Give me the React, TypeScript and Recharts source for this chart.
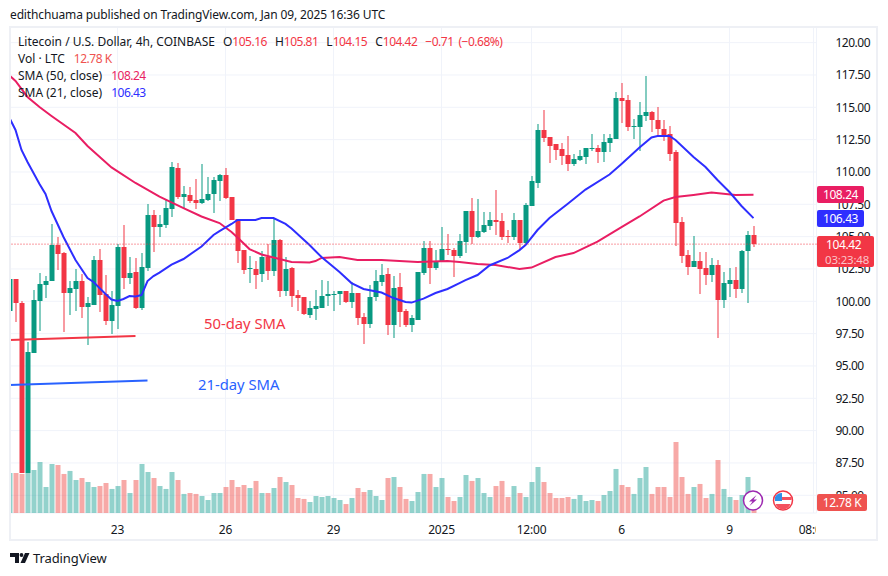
import { Bar, Cell, CartesianGrid, ComposedChart, Line, ReferenceLine, XAxis, YAxis } from 'recharts';

// 4h candles, Dec 20 2024 -> Jan 9 2025
const opens = [
  99.27, 101.72, 99.84, 86.75, 96.03, 100.05, 101.26, 101.59, 104.35, 103.73, 100.67, 100.98, 101.57, 99.58, 99.74, 103.19, 100.56, 98.5, 99.66, 104.2, 101.83, 102.26, 99.51, 102.6, 106.67,
  105.77, 105.93, 107.16, 110.31, 108.09, 108.22, 107.83, 107.63, 107.86, 108.32, 109.33, 109.77, 108.07, 106.36, 103.97, 102.52, 102.5, 102.11, 103.42, 102.37, 104.74, 100.82, 102.57, 100.49, 100.33,
  98.94, 99.4, 99.48, 100.41, 100.54, 100.59, 100.8, 99.94, 100.64, 98.78, 98.24, 100.33, 101.49, 102.11, 98.17, 101.1, 99.25, 98.17, 98.55, 102.19, 104.12, 102.57, 103.04, 104.05, 103.97,
  103.5, 104.59, 106.98, 104.97, 105.36, 105.82, 106.29, 106.21, 105.08, 104.97, 106.29, 104.51, 107.37, 109.15, 113.25, 112.71, 112.17, 111.78, 111.32, 110.62, 110.93, 111.16, 111.78, 111.86, 111.55,
  112.24, 112.55, 115.72, 115.57, 113.48, 113.48, 114.33, 114.64, 114.02, 113.33, 112.94, 111.55, 106.13, 103.58, 102.65, 103.12, 102.58, 102.03, 102.81, 100.1, 101.34, 101.65, 100.95, 103.89, 105.16,
];
const highs = [
  101.72, 101.72, 100.02, 96.85, 100.87, 102.19, 101.96, 105.98, 104.95, 103.81, 101.57, 102.5, 102.11, 100.33, 103.5, 104.04, 102.03, 100.8, 104.43, 105.9, 103.45, 103.35, 103.73, 107.52, 107.06,
  106.67, 107.91, 110.77, 110.69, 108.92, 108.84, 109.46, 110.62, 109.61, 109.61, 109.84, 110.31, 108.07, 106.36, 103.97, 103.5, 103.12, 103.89, 104.43, 106.44, 104.82, 103.42, 102.65, 100.87, 100.33,
  100.02, 100.87, 101.65, 101.57, 100.8, 100.8, 100.8, 101.49, 100.64, 99.09, 101.26, 102.42, 102.88, 102.57, 101.96, 102.19, 99.4, 98.94, 102.26, 104.66, 104.66, 103.97, 105.74, 105.23, 104.12,
  105.21, 106.98, 107.99, 107.91, 106.91, 106.91, 108.61, 106.83, 105.52, 106.83, 106.29, 107.6, 109.69, 113.71, 114.8, 112.71, 112.17, 112.24, 112.79, 111.39, 111.7, 111.86, 112.94, 112.09, 112.94,
  112.94, 116.19, 116.88, 115.96, 114.1, 115.42, 117.43, 114.72, 115.03, 114.02, 113.56, 111.7, 106.52, 103.97, 105.05, 103.81, 103.81, 103.35, 103.2, 102.27, 102.58, 102.65, 103.97, 105.44, 105.81,
];
const lows = [
  99.27, 98.42, 86.72, 86.75, 96.03, 97.7, 100.25, 101.59, 102.37, 97.62, 98.96, 99.25, 98.71, 96.64, 99.74, 99.2, 98.19, 97.5, 97.86, 100.98, 101.34, 99.43, 99.35, 102.37, 103.84,
  105.0, 105.67, 106.54, 107.91, 107.14, 107.6, 107.11, 107.55, 107.78, 106.85, 107.78, 107.91, 106.29, 102.96, 102.11, 101.41, 100.95, 101.49, 101.65, 101.96, 100.33, 100.41, 99.56, 99.25, 98.94,
  98.71, 98.55, 99.48, 99.63, 99.25, 99.71, 99.87, 99.48, 98.17, 96.7, 97.93, 100.02, 101.18, 97.39, 97.16, 98.01, 98.01, 97.62, 98.55, 102.03, 101.34, 102.42, 103.04, 103.58, 101.88,
  103.35, 103.74, 104.43, 104.9, 105.28, 105.52, 105.13, 104.74, 104.51, 104.74, 103.97, 104.43, 107.37, 108.76, 112.32, 110.7, 110.93, 110.54, 110.08, 110.47, 110.85, 110.62, 111.62, 110.7, 110.77,
  111.55, 112.55, 113.79, 113.17, 112.55, 111.62, 113.95, 113.1, 112.86, 112.4, 110.85, 104.28, 102.96, 102.03, 102.65, 100.57, 101.26, 101.49, 97.16, 99.48, 100.33, 100.26, 100.64, 99.87, 104.15,
];
const closes = [
  101.72, 99.89, 86.72, 96.08, 100.1, 101.34, 101.57, 104.35, 103.68, 100.67, 101.03, 101.57, 99.58, 99.87, 103.19, 100.51, 98.5, 99.71, 104.2, 101.83, 102.19, 99.51, 102.65, 106.67, 105.77,
  105.98, 107.21, 110.39, 108.09, 108.3, 107.78, 107.63, 107.91, 108.3, 109.38, 109.77, 107.99, 106.29, 103.91, 102.45, 102.57, 102.06, 103.42, 102.37, 104.74, 100.82, 102.5, 100.43, 100.28, 99.02,
  99.48, 99.63, 100.41, 100.56, 100.59, 100.8, 99.94, 100.64, 98.71, 98.24, 100.33, 101.57, 102.03, 98.17, 101.03, 99.17, 98.17, 98.71, 102.26, 104.12, 102.57, 103.12, 104.04, 104.0, 103.5,
  104.66, 106.98, 105.0, 105.44, 105.9, 106.29, 106.13, 104.97, 105.03, 106.29, 104.51, 107.45, 109.31, 113.25, 112.63, 112.01, 111.7, 111.24, 110.62, 111.01, 111.24, 111.86, 111.83, 111.55, 112.32,
  112.63, 115.72, 115.49, 113.48, 113.53, 114.41, 114.64, 114.02, 113.33, 112.86, 111.39, 106.06, 103.5, 102.65, 103.12, 102.5, 102.03, 102.81, 100.1, 101.42, 101.65, 100.95, 103.89, 105.13, 104.42,
];
// thousands of LTC
const volumes = [
  46.4, 46.4, 45.3, 46.4, 49.9, 59.2, 30.2, 56.9, 55.7, 45.3, 48.8, 38.3, 40.6, 36.0, 30.2, 31.3, 34.8, 27.9, 31.3, 38.3, 23.2, 38.3, 56.9, 47.6, 40.6,
  31.3, 27.9, 47.6, 38.3, 22.1, 23.2, 22.1, 19.7, 15.1, 23.2, 23.2, 30.2, 38.3, 30.2, 32.5, 29.0, 37.2, 23.2, 23.2, 29.0, 41.8, 36.0, 32.5, 17.4, 16.3,
  12.8, 19.7, 18.6, 19.7, 17.4, 15.1, 10.4, 17.4, 29.0, 24.4, 26.7, 19.7, 15.1, 40.6, 41.8, 30.2, 16.3, 13.9, 24.4, 45.3, 45.3, 30.2, 40.6, 18.6, 13.9,
  18.6, 44.1, 37.2, 40.6, 23.2, 18.6, 31.3, 37.2, 18.6, 31.3, 23.2, 18.6, 36.0, 53.4, 36.0, 23.2, 17.4, 17.4, 18.6, 16.3, 20.9, 13.9, 15.1, 13.9, 20.9,
  25.5, 51.1, 32.5, 30.2, 22.1, 40.6, 53.4, 22.1, 30.2, 30.2, 18.6, 82.4, 41.8, 22.1, 30.2, 33.7, 17.4, 22.1, 61.5, 27.9, 18.6, 15.1, 20.9, 41.8, 12.78,
];
// moving averages at these candles
const sma21At = [0, 1, 2, 3, 5, 6, 7, 9, 11, 13, 14, 16, 17, 18, 19, 20, 21, 22, 23, 24, 25, 27, 29, 32, 34, 35, 37, 38, 41, 42, 44, 46, 47, 50, 52, 55, 57, 59, 62, 64, 66, 67, 69, 71, 73, 75, 76, 78, 80, 83, 85, 86, 88, 90, 93, 96, 100, 102, 105, 107, 108, 110, 111, 114, 116, 118, 120, 122, 124];
const sma21Values = [114.17, 113.25, 111.7, 110.77, 109.07, 108.3, 106.98, 104.97, 103.19, 101.8, 101.49, 100.56, 100.14, 100.02, 100.18, 100.41, 100.37, 100.48, 101.57, 101.95, 102.22, 102.84, 103.27, 104.24, 105.13, 105.43, 105.98, 106.29, 106.29, 106.44, 106.44, 105.98, 105.63, 104.35, 103.42, 102.26, 101.41, 100.95, 100.68, 100.25, 99.94, 99.9, 100.21, 100.64, 100.95, 101.41, 101.64, 102.03, 102.77, 103.35, 103.96, 104.35, 105.51, 106.44, 107.52, 108.64, 109.8, 110.62, 111.89, 112.67, 112.78, 112.78, 112.47, 111.16, 110.38, 109.38, 108.45, 107.37, 106.43];
const sma50At = [0, 1, 3, 5, 7, 11, 13, 17, 21, 25, 29, 32, 35, 37, 38, 40, 42, 44, 47, 50, 51, 52, 55, 58, 62, 68, 73, 75, 78, 81, 85, 87, 91, 94, 98, 102, 105, 109, 111, 114, 117, 121, 124];
const sma50Values = [117.46, 117.04, 115.8, 115.02, 114.33, 113.01, 112.01, 110.35, 109.15, 108.1, 107.21, 106.56, 106.05, 105.36, 104.93, 104.04, 103.62, 103.39, 103.04, 103.0, 103.11, 103.35, 103.42, 103.19, 103.19, 103.04, 103.11, 103.04, 102.88, 102.8, 102.5, 102.61, 103.42, 103.73, 104.62, 105.74, 106.56, 107.79, 108.06, 108.22, 108.41, 108.22, 108.24];

const slotCount = 135;
const priceTicks = [120, 117.5, 115, 112.5, 110, 107.5, 105, 102.5, 100, 97.5, 95, 92.5, 90, 87.5, 85];
const timeTicks = [18, 36, 54, 72, 87, 102, 120, 134];
const timeLabels = ['23', '26', '29', '2025', '12:00', '6', '9', '08:00'];

const UP = '#089981';
const DOWN = '#f23645';
const FONT = '"Noto Sans", sans-serif';

const rows = Array.from({ length: slotCount }, (_, i) => {
  const s21 = sma21At.indexOf(i);
  const s50 = sma50At.indexOf(i);
  return {
    i,
    open: opens[i],
    high: highs[i],
    low: lows[i],
    close: closes[i],
    range: i < opens.length ? [lows[i], highs[i]] : null,
    volume: i < opens.length ? volumes[i] : null,
    sma21: s21 >= 0 ? sma21Values[s21] : null,
    sma50: s50 >= 0 ? sma50Values[s50] : null,
  };
});

function Candle(props: any) {
  const { x, y, width, height, payload } = props;
  if (payload.range == null || !Number.isFinite(y)) return null;
  const { open, high, low, close } = payload;
  const color = close >= open ? UP : DOWN;
  const k = height / (high - low);
  const top = Math.round(y + (high - Math.max(open, close)) * k);
  const bottom = Math.round(y + (high - Math.min(open, close)) * k);
  return (
    <g>
      <rect x={x + (width - 1) / 2} y={Math.round(y)} width={1} height={Math.max(1, Math.round(height))} fill={color} />
      <rect x={x} y={top} width={width} height={Math.max(1, bottom - top)} fill={color} />
    </g>
  );
}

function Tag({ top, left = 817, width = 47, height = 17, bg, children }: any) {
  return (
    <div style={{ position: 'absolute', left, top, width, height, background: bg, color: '#fff', borderRadius: 2, fontSize: 12, lineHeight: height + 'px', textAlign: 'center', letterSpacing: -0.4 }}>
      {children}
    </div>
  );
}

// numbers in the legend, the reference's digits are narrower than Noto's
const Num = ({ children, c = DOWN, gap = 8 }: any) => (
  <span style={{ color: c, letterSpacing: -0.5, marginRight: gap }}>{children}</span>
);

export default function App() {
  return (
    <div style={{ position: 'fixed', left: 0, top: 0, width: 888, height: 576, background: '#fff', overflow: 'hidden', fontFamily: FONT, color: '#131722' }}>
      <div style={{ position: 'absolute', left: 10, top: 6, fontSize: 12, letterSpacing: -0.14, lineHeight: '18px', whiteSpace: 'nowrap' }}>
        edithchuama published on TradingView.com, Jan 09, 2025 16:36 UTC
      </div>

      <div style={{ position: 'absolute', left: 0, top: 0 }}>
        <ComposedChart width={878} height={540} data={rows} margin={{ top: 27, right: 0, bottom: 0, left: 6.5 }} barCategoryGap={0}>
          <CartesianGrid xAxisId="price" yAxisId="price" stroke="#f0f3fa" strokeWidth={1} />
          <XAxis
            xAxisId="price"
            dataKey="i"
            type="category"
            ticks={timeTicks}
            interval={0}
            height={27}
            axisLine={false}
            tickLine={false}
            tickMargin={6}
            tick={{ fill: '#131722', fontSize: 12, fontFamily: FONT, letterSpacing: -0.2 }}
            tickFormatter={(v: number) => timeLabels[timeTicks.indexOf(v)]}
          />
          <XAxis xAxisId="vol" dataKey="i" type="category" hide />
          <YAxis
            yAxisId="price"
            orientation="right"
            width={61.5}
            domain={[83.63, 121.21]}
            ticks={priceTicks}
            interval={0}
            allowDataOverflow
            axisLine={false}
            tickLine={false}
            tickMargin={13}
            tick={{ fill: '#131722', fontSize: 12, fontFamily: FONT, letterSpacing: -0.5 }}
            tickFormatter={(v: number) => v.toFixed(2)}
          />
          <YAxis yAxisId="vol" hide domain={[0, 564]} allowDataOverflow />

          <Bar xAxisId="vol" yAxisId="vol" dataKey="volume" barSize={5} isAnimationActive={false}>
            {rows.map((r) => (
              <Cell key={r.i} fill={r.close >= r.open ? '#26a69a' : '#ef5350'} fillOpacity={0.5} />
            ))}
          </Bar>
          <Bar xAxisId="price" yAxisId="price" dataKey="range" barSize={5} shape={Candle} isAnimationActive={false} />

          <Line xAxisId="price" yAxisId="price" dataKey="sma50" stroke="#e91e63" strokeWidth={2} dot={false} connectNulls isAnimationActive={false} />
          <Line xAxisId="price" yAxisId="price" dataKey="sma21" stroke="#2e2eff" strokeWidth={2} dot={false} connectNulls isAnimationActive={false} />

          <ReferenceLine xAxisId="price" yAxisId="price" y={104.42} stroke={DOWN} strokeDasharray="1 2" />
          <ReferenceLine xAxisId="price" yAxisId="price" segment={[{ x: 0, y: 97.0 }, { x: 21, y: 97.31 }]} stroke={DOWN} strokeWidth={2} />
          <ReferenceLine xAxisId="price" yAxisId="price" segment={[{ x: 0, y: 93.52 }, { x: 23, y: 93.87 }]} stroke="#2962ff" strokeWidth={2} />
        </ComposedChart>
      </div>

      {/* clip left of the pane and the cut off time label */}
      <div style={{ position: 'absolute', left: 0, top: 20, width: 9, height: 530, background: '#fff' }} />
      <div style={{ position: 'absolute', left: 816, top: 514, width: 61, height: 26, background: '#fff' }} />
      <div style={{ position: 'absolute', left: 9, top: 26, width: 869, height: 515, border: '2px solid #eef0f5', boxSizing: 'border-box' }} />

      <div style={{ position: 'absolute', left: 18, top: 33, fontSize: 12, lineHeight: '17px', whiteSpace: 'nowrap' }}>
        <div>
          <span style={{ marginRight: 8 }}>Litecoin / U.S. Dollar, 4h, COINBASE</span>
          O<Num>105.16</Num>H<Num>105.81</Num>L<Num>104.15</Num>C<Num>104.42</Num>
          <Num gap={5}>−0.71</Num><Num>(−0.68%)</Num>
        </div>
        <div><span style={{ marginRight: 9 }}>Vol · LTC</span><Num c="#ef5350">12.78 K</Num></div>
        <div><span style={{ marginRight: 9 }}>SMA (50, close)</span><Num c="#e91e63">108.24</Num></div>
        <div><span style={{ marginRight: 9 }}>SMA (21, close)</span><Num c="#2e2eff">106.43</Num></div>
      </div>

      <div style={{ position: 'absolute', left: 204, top: 313, fontSize: 14.8, lineHeight: '20px', color: DOWN, whiteSpace: 'nowrap' }}>50-day SMA</div>
      <div style={{ position: 'absolute', left: 198, top: 374, fontSize: 14.8, lineHeight: '20px', color: '#2962ff', whiteSpace: 'nowrap' }}>21-day SMA</div>

      <Tag top={186} bg="#e91e63">108.24</Tag>
      <Tag top={210} bg="#2e2eff">106.43</Tag>
      <div style={{ position: 'absolute', left: 817, top: 236, width: 57, height: 31, background: DOWN, color: '#fff', borderRadius: 2, fontSize: 12, lineHeight: '15px', paddingLeft: 9, boxSizing: 'border-box', paddingTop: 1, letterSpacing: -0.4 }}>
        104.42
        <div style={{ fontSize: 11.5, color: '#fbc4c9', marginLeft: -1, letterSpacing: -0.2 }}>03:23:48</div>
      </div>
      <Tag top={494} width={50} bg="#ef5350">12.78 K</Tag>

      <svg width={888} height={576} style={{ position: 'absolute', left: 0, top: 0, pointerEvents: 'none' }}>
        <circle cx={753} cy={500.5} r={9.5} fill="#fff" stroke="#9c27b0" strokeWidth={1.5} />
        <path d="M756.5 495 L749 501.5 H752.5 L749.5 506 L757 499.5 H753.5 Z" fill="#9c27b0" />
        <circle cx={783} cy={500.5} r={9.5} fill="#fff" stroke={DOWN} strokeWidth={1.5} />
        <path d="M775.5 504 H790.5 A8 8 0 0 1 775.5 504 Z" fill="#f4515f" />
        <rect x={782} y={497} width={9.5} height={3} fill="#f4515f" />
        <path d="M775 501 V497 A8 8 0 0 1 782 493 V501 Z" fill="#2f8fe8" />
        <path d="M10 553 H19 V563 H15 V557 H10 Z" fill="#131722" />
        <circle cx={21.5} cy={555} r={1.9} fill="#131722" />
        <path d="M25 553 H29.5 L25 563 H20.5 Z" fill="#131722" />
      </svg>
      <div style={{ position: 'absolute', left: 33, top: 549, fontSize: 13, letterSpacing: -0.1, lineHeight: '19px', whiteSpace: 'nowrap' }}>TradingView</div>
    </div>
  );
}
